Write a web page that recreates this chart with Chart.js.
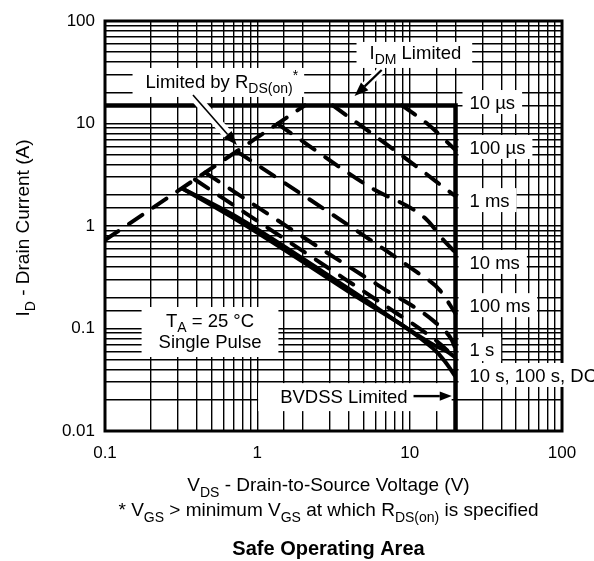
<!DOCTYPE html>
<html>
<head>
<meta charset="utf-8">
<script src="https://cdn.jsdelivr.net/npm/chart.js@4.4.1/dist/chart.umd.min.js"></script>
<style>
  html, body { margin: 0; padding: 0; background: #fff; }
  #wrap { width: 594px; height: 561px; }
</style>
</head>
<body>
<div id="wrap"><canvas id="soa" width="594" height="561"></canvas></div>
<script>
// SOA curves: V_DS in volts, I_D in amps
const rdsV = [0.1, 2.05];
const rdsI = [0.73, 15];
const t10usV = [0.1, 20, 20];
const t10usI = [15, 15, 0.01];
const t100usV = [8.9, 12.9, 20];
const t100usI = [15, 10.1, 5.5];
const t1msV = [3.13, 9, 20];
const t1msI = [15, 4.8, 1.95];
const t10msV = [1.36, 5.47, 12.9, 16.4, 20];
const t10msI = [9.9, 2.4, 1.16, 0.75, 0.55];
const t100msV = [0.733, 5.6, 11.1, 15.7, 20];
const t100msI = [5.35, 0.72, 0.356, 0.238, 0.14];
const t1sV = [0.455, 3.3, 6.65, 14.6, 18.9, 20];
const t1sI = [3.32, 0.48, 0.248, 0.116, 0.0773, 0.063];
const t10sV = [0.389, 3.85, 7.97, 12.0, 17.5, 20];
const t10sI = [2.84, 0.297, 0.145, 0.0966, 0.0617, 0.048];
const t100sV = [0.32, 0.767, 4.04, 14.2, 17.5, 20];
const t100sI = [2.34, 1.18, 0.24, 0.07, 0.06, 0.052];
const dcV = [0.32, 0.767, 4.04, 14.2, 17, 20];
const dcI = [2.34, 1.10, 0.225, 0.064, 0.048, 0.034];

const xTickLabels = ['0.1', '1', '10', '100'];
const yTickLabels = ['0.01', '0.1', '1', '10', '100'];

// labels on the right of the BVDSS line
const rightLabels = ['10 µs', '100 µs', '1 ms', '10 ms', '100 ms', '1 s', '10 s, 100 s, DC'];
const rightLabelI = [16.2, 5.9, 1.79, 0.446, 0.169, 0.063, 0.0352];

const FAMILY = '"Liberation Sans", Arial, Helvetica, sans-serif';
const NOTE_SIZE = 18.5;

function series(V, I) {
  return V.map((v, k) => ({ x: v, y: I[k] }));
}

const dashed = [16, 13];
function curve(V, I, dash, width) {
  return {
    data: series(V, I),
    borderColor: '#000',
    borderWidth: width || 4,
    borderDash: dash || [],
    borderCapStyle: dash ? 'round' : 'butt',
    borderJoinStyle: 'miter',
    pointRadius: 0,
    fill: false,
    cubicInterpolationMode: 'monotone'
  };
}

function fontFor(kind, size, bold) {
  const s = kind === 'n' ? size : Math.round(size * 0.74);
  return (bold ? 'bold ' : '') + s + 'px ' + FAMILY;
}

function richWidth(ctx, parts, size, bold) {
  let w = 0;
  for (const [t, k] of parts) {
    ctx.font = fontFor(k, size, bold);
    w += ctx.measureText(t).width;
  }
  return w;
}

// draws text with sub/superscripts, y is the middle of the capitals
function drawRich(ctx, parts, x, y, size, align, bold) {
  const w = richWidth(ctx, parts, size, bold);
  let cx = align === 'center' ? x - w / 2 : align === 'right' ? x - w : x;
  const base = y + size * 0.36;
  ctx.textAlign = 'left';
  ctx.textBaseline = 'alphabetic';
  ctx.fillStyle = '#000';
  for (const [t, k] of parts) {
    ctx.font = fontFor(k, size, bold);
    const dy = k === 'sub' ? size * 0.3 : k === 'sup' ? -size * 0.42 : 0;
    ctx.fillText(t, cx, base + dy);
    cx += ctx.measureText(t).width;
  }
  return w;
}

function arrow(ctx, a, b, head, lw, halo) {
  const ang = Math.atan2(b[1] - a[1], b[0] - a[0]);
  const bx = b[0] - Math.cos(ang) * head, by = b[1] - Math.sin(ang) * head;
  if (halo) {
    ctx.strokeStyle = '#fff';
    ctx.lineWidth = halo;
    ctx.lineCap = 'butt';
    ctx.beginPath(); ctx.moveTo(a[0], a[1]); ctx.lineTo(bx, by); ctx.stroke();
  }
  ctx.strokeStyle = '#000';
  ctx.lineWidth = lw;
  ctx.beginPath(); ctx.moveTo(a[0], a[1]); ctx.lineTo(bx, by); ctx.stroke();
  const hw = head * 0.38;
  ctx.fillStyle = '#000';
  ctx.beginPath();
  ctx.moveTo(b[0], b[1]);
  ctx.lineTo(bx + Math.sin(ang) * hw, by - Math.cos(ang) * hw);
  ctx.lineTo(bx - Math.sin(ang) * hw, by + Math.cos(ang) * hw);
  ctx.closePath();
  ctx.fill();
}

// annotations, anchored in data units (V, I)
const notes = [
  { lines: [[['Limited by R', 'n'], ['DS(on)', 'sub'], ['*', 'sup']]], at: [0.585, 26.0], align: 'center', pad: [13, 6], box: [-13, 16] },
  { lines: [[['I', 'n'], ['DM', 'sub'], [' Limited', 'n']]], at: [10.9, 49.9], align: 'center', pad: [13, 11], box: [-10, 16] },
  { lines: [[['BVDSS Limited', 'n']]], at: [9.7, 0.0219], align: 'right', pad: [22, 44], box: [-13, 15] },
  { lines: [[['T', 'n'], ['A', 'sub'], [' = 25 °C', 'n']], [['Single Pulse', 'n']]], at: [0.489, 0.121], align: 'center', lineGap: 21, pad: [17, 17], box: [-13, 37] }
];

const arrows = [
  { from: [0.378, 19.0], to: [0.734, 6.17], head: 14, lw: 1.6, halo: 10 },
  { from: [6.55, 33.3], to: [4.35, 18.5], head: 14, lw: 2.2, halo: 8 },
  { from: [10.6, 0.0219], to: [18.9, 0.0219], head: 12, lw: 2.4, halo: 0 }
];

const overlay = {
  id: 'overlay',
  afterDatasetsDraw(chart) {
    const ctx = chart.ctx;
    const a = chart.chartArea;
    const sx = chart.scales.x, sy = chart.scales.y;
    const P = (v, i) => [sx.getPixelForValue(v), sy.getPixelForValue(i)];
    ctx.save();
    // heavy frame
    ctx.strokeStyle = '#000';
    ctx.lineWidth = 3;
    ctx.strokeRect(a.left, a.top, a.right - a.left, a.bottom - a.top);

    // white boxes + text
    for (const n of notes) {
      const [x, y] = P(n.at[0], n.at[1]);
      const w = Math.max(...n.lines.map(l => richWidth(ctx, l, NOTE_SIZE)));
      let x0 = n.align === 'center' ? x - w / 2 : n.align === 'right' ? x - w : x;
      ctx.fillStyle = '#fff';
      ctx.fillRect(x0 - n.pad[0], y + n.box[0], w + n.pad[0] + n.pad[1], n.box[1] - n.box[0]);
      n.lines.forEach((l, k) => drawRich(ctx, l, x, y + k * (n.lineGap || 0), NOTE_SIZE, n.align));
    }
    const xl = sx.getPixelForValue(20) + 3;
    const xt = sx.getPixelForValue(24.7);
    rightLabels.forEach((t, k) => {
      const y = sy.getPixelForValue(rightLabelI[k]);
      ctx.font = fontFor('n', NOTE_SIZE);
      const w = ctx.measureText(t).width;
      ctx.fillStyle = '#fff';
      const x0 = k === 0 ? xt - 7 : xl;
      ctx.fillRect(x0, y - 12, xt + w + 7 - x0, 24);
      drawRich(ctx, [[t, 'n']], xt, y, NOTE_SIZE, 'left');
    });

    for (const ar of arrows) {
      arrow(ctx, P(ar.from[0], ar.from[1]), P(ar.to[0], ar.to[1]), ar.head, ar.lw, ar.halo);
    }
    ctx.restore();
  },
  afterDraw(chart) {
    const ctx = chart.ctx;
    const a = chart.chartArea;
    const cx = (a.left + a.right) / 2 - 5;
    ctx.save();
    drawRich(ctx, [['V', 'n'], ['DS', 'sub'], [' - Drain-to-Source Voltage (V)', 'n']], cx, a.bottom + 53, 19, 'center');
    drawRich(ctx, [['* V', 'n'], ['GS', 'sub'], [' > minimum V', 'n'], ['GS', 'sub'], [' at which R', 'n'], ['DS(on)', 'sub'], [' is specified', 'n']], cx, a.bottom + 78, 19, 'center');
    drawRich(ctx, [['Safe Operating Area', 'n']], cx, a.bottom + 117, 20, 'center', true);
    ctx.translate(22, (a.top + a.bottom) / 2 + 2);
    ctx.rotate(-Math.PI / 2);
    drawRich(ctx, [['I', 'n'], ['D', 'sub'], [' - Drain Current (A)', 'n']], 0, 0, 19, 'center');
    ctx.restore();
  }
};

function tickText(list) {
  return function (value) {
    const s = String(Number(Number(value).toPrecision(6)));
    return list.includes(s) ? s : '';
  };
}

const gridOpts = { color: '#000', lineWidth: 1.4, drawTicks: false };

new Chart(document.getElementById('soa'), {
  type: 'line',
  data: {
    datasets: [
      curve(t10usV, t10usI, null, 4.5),
      curve(rdsV, rdsI, dashed),
      curve(t100usV, t100usI, dashed),
      curve(t1msV, t1msI, dashed),
      curve(t10msV, t10msI, dashed),
      curve(t100msV, t100msI, dashed),
      curve(t1sV, t1sI, dashed),
      curve(t10sV, t10sI, dashed),
      curve(t100sV, t100sI, null, 4),
      curve(dcV, dcI, null, 4)
    ]
  },
  options: {
    responsive: false,
    animation: false,
    devicePixelRatio: 1,
    layout: { padding: { top: 21, right: 32, left: 0, bottom: 0 } },
    plugins: { legend: { display: false }, tooltip: { enabled: false } },
    scales: {
      x: {
        type: 'logarithmic', min: 0.1, max: 100,
        afterFit: s => { s.height = 130; },
        grid: gridOpts,
        border: { display: false },
        ticks: { autoSkip: false, maxRotation: 0, padding: 12, color: '#000', font: { family: FAMILY, size: 17 }, callback: tickText(xTickLabels) }
      },
      y: {
        type: 'logarithmic', min: 0.01, max: 100,
        afterFit: s => { s.width = 105; },
        grid: gridOpts,
        border: { display: false },
        ticks: { autoSkip: false, padding: 10, color: '#000', font: { family: FAMILY, size: 17 }, callback: tickText(yTickLabels) }
      }
    }
  },
  plugins: [overlay]
});
</script>
</body>
</html>
